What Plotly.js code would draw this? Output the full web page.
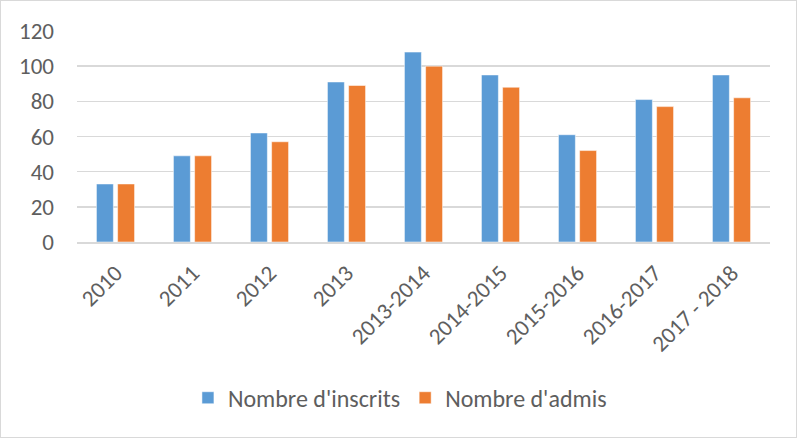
<!DOCTYPE html>
<html>
<head>
<meta charset="utf-8">
<script src="https://cdn.plot.ly/plotly-3.0.1.min.js"></script>
<style>
html,body{margin:0;padding:0;background:#fff;}
#chart{width:795px;height:436px;border:1px solid #D9D9D9;}
</style>
</head>
<body>
<div id="chart"></div>
<script>
const categories = ["2010","2011","2012","2013","2013-2014","2014-2015","2015-2016","2016-2017","2017 - 2018"];
const inscrits = [33,49,62,91,108,95,61,81,95];
const admis = [33,49,57,89,100,88,52,77,82];
const seriesNames = ["Nombre d'inscrits","Nombre d'admis"];
const yTicks = [0,20,40,60,80,100,120];

const font = "Calibri, Carlito, 'Liberation Sans', Arial, sans-serif";
const data = [
  {type:'bar', x:categories, y:inscrits, name:seriesNames[0],
   marker:{color:'#5B9BD5', line:{color:'rgba(255,255,255,0.5)', width:1}}},
  {type:'bar', x:categories, y:admis, name:seriesNames[1],
   marker:{color:'#ED7D31', line:{color:'rgba(255,255,255,0.5)', width:1}}}
];
const layout = {
  width:795, height:436,
  margin:{l:76, r:26, t:30, b:195, pad:0},
  paper_bgcolor:'#fff', plot_bgcolor:'#fff',
  barmode:'group', bargap:0.45, bargroupgap:0.2,
  font:{family:font, color:'#5E5E5E'},
  xaxis:{type:'category', tickangle:-45, tickfont:{size:23, color:'#5E5E5E'},
    showline:true, linecolor:'#D9D9D9', linewidth:1.5, ticks:'', showgrid:false, fixedrange:true,
    ticklabelstandoff:7},
  yaxis:{range:[0,120], tickvals:yTicks, tickfont:{size:23, color:'#5E5E5E'},
    showgrid:true, gridcolor:'#D9D9D9', gridwidth:1.5, zeroline:false, showline:false, ticks:'', ticklabelstandoff:22},
  legend:{orientation:'h', x:0.466, xanchor:'center', y:-0.74, yanchor:'middle',
    font:{size:24, color:'#5E5E5E'}, itemwidth:30, tracegroupgap:0},
  showlegend:true
};
Plotly.newPlot('chart', data, layout, {displayModeBar:false, staticPlot:true});
</script>
</body>
</html>
